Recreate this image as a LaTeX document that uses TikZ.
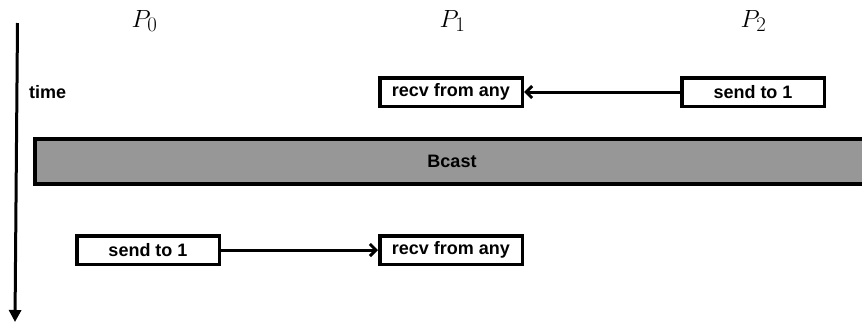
\documentclass[tikz,border=0pt]{standalone}
\usepackage{fontspec}
\setsansfont{Liberation Sans}
\usetikzlibrary{arrows.meta}
\begin{document}
\begin{tikzpicture}[x=1pt,y=-1pt,
  opbox/.style={draw=black, line width=3.5pt, fill=white, minimum width=142.5pt, minimum height=28.5pt, inner sep=0pt,
    font=\fontsize{18}{20}\selectfont\sffamily\bfseries},
  bcastbox/.style={draw=black, line width=4pt, fill=bcastgray, minimum width=834pt, minimum height=45pt, inner sep=0pt,
    font=\fontsize{18}{20}\selectfont\sffamily\bfseries},
  proc/.style={font=\fontsize{28}{30}\selectfont, inner sep=0pt, anchor=base},
  msg/.style={line width=3pt, -{Straight Barb[length=6pt,width=12pt,line width=3pt]}},
  axis/.style={line width=3pt, -{Triangle[length=12pt,width=12pt]}}
]
\definecolor{bcastgray}{RGB}{150,151,150}
\useasboundingbox (0,0) rectangle (862,322);
\begin{scope}
\clip (0,0) rectangle (862,322);
% processes
\node[proc] (p0) at (144.5,27) {$P_0$};
\node[proc] (p1) at (452.5,27) {$P_1$};
\node[proc] (p2) at (753.5,27) {$P_2$};
% time axis
\coordinate (ttop) at (17.5,23);
\coordinate (tbot) at (15,322);
\draw[axis] (ttop) -- (tbot);
\node[anchor=west, inner sep=0pt, font=\fontsize{18}{20}\selectfont\sffamily\bfseries] (time) at (29,92) {time};
% top row
\node[opbox] (recvA) at (451,92) {recv from any};
\node[opbox] (sendA) at (753,92) {send to 1};
\draw[msg] (sendA) -- (recvA);
% bcast
\node[bcastbox] (bcast) at (452,161.5) {Bcast};
% bottom row
\node[opbox] (sendB) at (148,250) {send to 1};
\node[opbox] (recvB) at (451,250) {recv from any};
\draw[msg] (sendB) -- (recvB);
\end{scope}
\end{tikzpicture}
\end{document}
